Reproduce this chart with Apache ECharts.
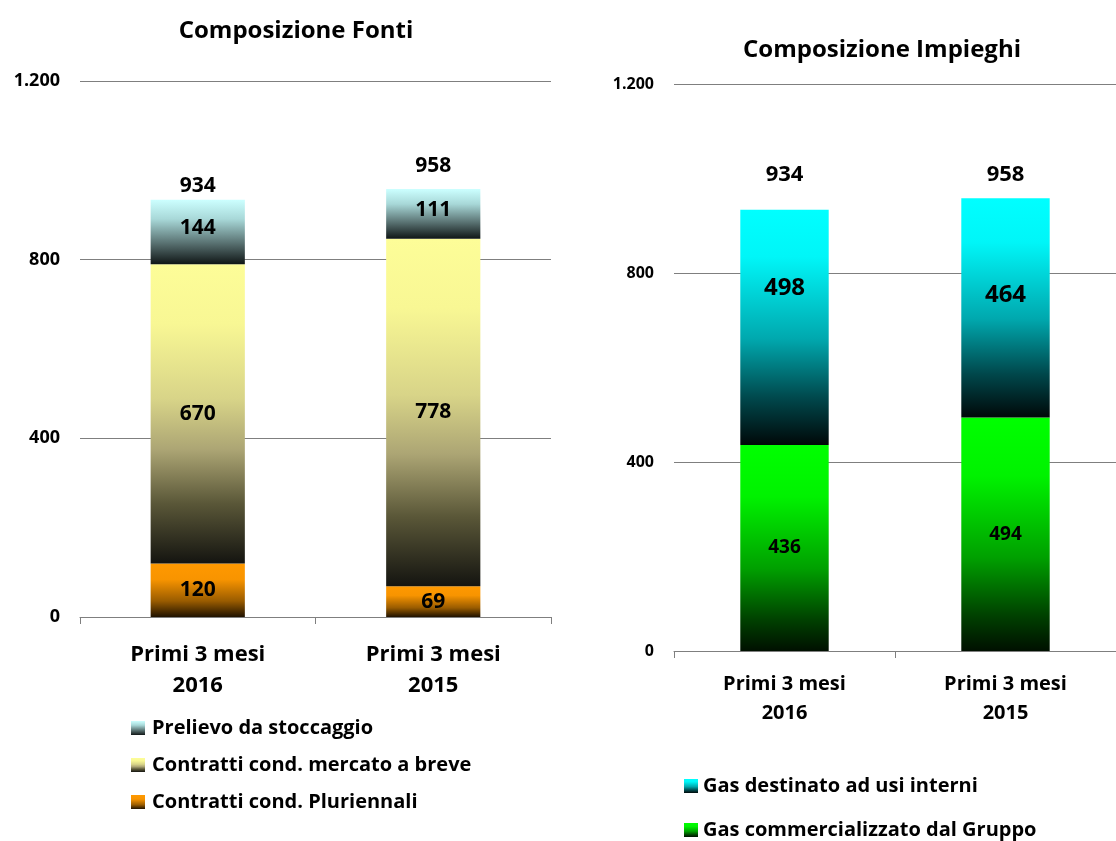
<!DOCTYPE html>
<html>
<head>
<meta charset="utf-8">
<script src="https://cdn.jsdelivr.net/npm/echarts@6/dist/echarts.min.js"></script>
<style>
  html, body { margin: 0; padding: 0; background: #ffffff; }
  #chart { width: 1116px; height: 841px; }
</style>
</head>
<body>
<div id="chart"></div>
<script>
// Category labels
const categories = ['Primi 3 mesi\n2016', 'Primi 3 mesi\n2015'];

// Composizione Fonti
const fontiPluriennali = [120, 69];
const fontiBreve = [670, 778];
const fontiStoccaggio = [144, 111];

// Composizione Impieghi
const impieghiGruppo = [436, 494];
const impieghiInterni = [498, 464];

const FONT = '"Open Sans", Lato, sans-serif';

function sum(...arrs) {
  return arrs[0].map((_, i) => arrs.reduce((s, a) => s + a[i], 0));
}
const fontiTotal = sum(fontiPluriennali, fontiBreve, fontiStoccaggio);
const impieghiTotal = sum(impieghiGruppo, impieghiInterni);

function grad(stops) {
  return new echarts.graphic.LinearGradient(0, 0, 0, 1,
    stops.map(s => ({ offset: s[0], color: s[1] })));
}

// Vertical shading per segment: light at the top, darkening towards the base
const cStoccaggio = grad([[0, '#ccffff'], [0.3, '#a8d8d8'], [0.65, '#5e7878'], [1, '#101616']]);
const cBreve = grad([[0, '#fdfd98'], [0.2, '#f8f794'], [0.45, '#d8d488'], [0.62, '#aca574'], [0.8, '#5a5738'], [1, '#141410']]);
const cPluri = grad([[0, '#ff9900'], [0.3, '#f89400'], [0.7, '#9a5c00'], [1, '#201200']]);
const cInterni = grad([[0, '#00ffff'], [0.2, '#00f6f8'], [0.55, '#00a8ae'], [0.8, '#00484c'], [1, '#000808']]);
const cGruppo = grad([[0, '#00ff00'], [0.25, '#00f200'], [0.6, '#00a000'], [0.85, '#004000'], [1, '#001000']]);

function fmt(v) {
  return String(v).replace(/\B(?=(\d{3})+(?!\d))/g, '.');
}

const commonX = (gridIndex, fontSize, lineHeight, margin) => ({
  type: 'category',
  gridIndex: gridIndex,
  data: categories,
  boundaryGap: true,
  axisLine: { show: true, lineStyle: { color: '#7f7f7f', width: 1 } },
  axisTick: { show: true, length: 7, lineStyle: { color: '#7f7f7f' } },
  axisLabel: {
    color: '#000', fontFamily: FONT, fontWeight: 'bold',
    fontSize: fontSize, lineHeight: lineHeight, margin: margin
  }
});

const commonY = (gridIndex, fontSize, margin) => ({
  type: 'value',
  gridIndex: gridIndex,
  min: 0, max: 1200, interval: 400,
  axisLine: { show: false },
  axisTick: { show: false },
  splitLine: { show: true, lineStyle: { color: '#7f7f7f', width: 1 } },
  axisLabel: {
    color: '#000', fontFamily: FONT, fontWeight: 'bold', fontSize: fontSize,
    margin: margin, formatter: v => fmt(v)
  }
});

function innerLabel(size) {
  return {
    show: true, position: 'inside', color: '#000',
    fontFamily: FONT, fontWeight: 'bold', fontSize: size
  };
}

function totalSeries(name, xi, yi, totals, size, offsets) {
  return {
    name: name, type: 'bar', xAxisIndex: xi, yAxisIndex: yi,
    barWidth: '40%', barGap: '-100%', z: 1,
    itemStyle: { color: 'rgba(0,0,0,0)' },
    data: totals.map((v, i) => ({
      value: v,
      label: { offset: [0, -offsets[i]] }
    })),
    label: {
      show: true, position: 'top', distance: 3, color: '#000',
      fontFamily: FONT, fontWeight: 'bold', fontSize: size
    },
    silent: true
  };
}

const option = {
  backgroundColor: '#ffffff',
  animation: false,
  title: [
    {
      text: 'Composizione Fonti', left: 291, top: 14, textAlign: 'center',
      textStyle: { fontFamily: FONT, fontWeight: 'bold', fontSize: 24, color: '#000' }
    },
    {
      text: 'Composizione Impieghi', left: 877, top: 33, textAlign: 'center',
      textStyle: { fontFamily: FONT, fontWeight: 'bold', fontSize: 24, color: '#000' }
    }
  ],
  legend: [
    {
      orient: 'vertical', left: 126, top: 713, height: 120, itemWidth: 14, itemHeight: 14,
      itemGap: 17,
      data: ['Prelievo da stoccaggio', 'Contratti cond. mercato a breve', 'Contratti cond. Pluriennali'],
      textStyle: { fontFamily: FONT, fontWeight: 'bold', fontSize: 20, lineHeight: 20, color: '#000', padding: [0, 0, 0, 2] },
      icon: 'rect'
    },
    {
      orient: 'vertical', left: 679, top: 771, height: 70, itemWidth: 14, itemHeight: 14,
      itemGap: 24,
      data: ['Gas destinato ad usi interni', 'Gas commercializzato dal Gruppo'],
      textStyle: { fontFamily: FONT, fontWeight: 'bold', fontSize: 20, lineHeight: 20, color: '#000', padding: [0, 0, 0, 0] },
      icon: 'rect'
    }
  ],
  grid: [
    { left: 80, top: 81, width: 471, height: 536 },
    { left: 674, top: 84, width: 456, height: 567 }
  ],
  xAxis: [commonX(0, 22, 31, 22), commonX(1, 20, 29, 19)],
  yAxis: [commonY(0, 18, 20), commonY(1, 16, 20)],
  series: [
    {
      name: 'Contratti cond. Pluriennali', type: 'bar', stack: 'fonti',
      xAxisIndex: 0, yAxisIndex: 0, barWidth: '40%',
      itemStyle: { color: cPluri }, label: innerLabel(21), data: fontiPluriennali
    },
    {
      name: 'Contratti cond. mercato a breve', type: 'bar', stack: 'fonti',
      xAxisIndex: 0, yAxisIndex: 0, barWidth: '40%',
      itemStyle: { color: cBreve }, label: innerLabel(21), data: fontiBreve
    },
    {
      name: 'Prelievo da stoccaggio', type: 'bar', stack: 'fonti',
      xAxisIndex: 0, yAxisIndex: 0, barWidth: '40%',
      itemStyle: { color: cStoccaggio },
      label: Object.assign(innerLabel(21), { offset: [0, -4] }),
      data: fontiStoccaggio
    },
    totalSeries('Totale fonti', 0, 0, fontiTotal, 21, [0, 10]),
    {
      name: 'Gas commercializzato dal Gruppo', type: 'bar', stack: 'impieghi',
      xAxisIndex: 1, yAxisIndex: 1, barWidth: '40%',
      itemStyle: { color: cGruppo }, label: innerLabel(19), data: impieghiGruppo
    },
    {
      name: 'Gas destinato ad usi interni', type: 'bar', stack: 'impieghi',
      xAxisIndex: 1, yAxisIndex: 1, barWidth: '40%',
      itemStyle: { color: cInterni },
      data: impieghiInterni.map((v, i) => ({
        value: v,
        label: { offset: [0, i === 0 ? -39 : -13] }
      })),
      label: innerLabel(24)
    },
    totalSeries('Totale impieghi', 1, 1, impieghiTotal, 22, [21, 10])
  ]
};

const chart = echarts.init(document.getElementById('chart'), null, { renderer: 'canvas' });
chart.setOption(option);
</script>
</body>
</html>
